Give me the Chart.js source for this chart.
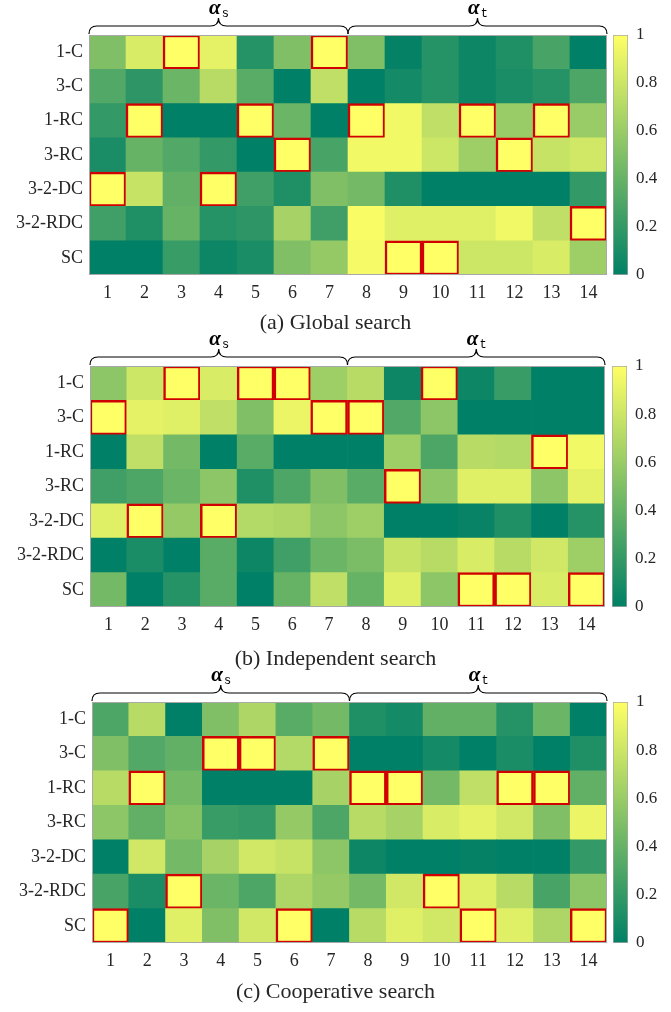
<!DOCTYPE html>
<html>
<head>
<meta charset="utf-8">
<script src="https://cdn.jsdelivr.net/npm/chart.js@4.4.1/dist/chart.umd.min.js"></script>
<style>
  body { margin: 0; background: #fff; }
  #wrap { position: relative; width: 671px; height: 1012px; overflow: hidden; }
  canvas { position: absolute; }
  .cap { position: absolute; left: 0; width: 671px; text-align: center;
         font-family: "Liberation Serif", serif; font-size: 22px; color: #262626; line-height: 24px; }
</style>
</head>
<body>
<div id="wrap">
  <canvas id="heatA" width="671" height="330" style="left:0;top:0"></canvas>
  <canvas id="barA" width="66" height="330" style="left:605px;top:0"></canvas>
  <div class="cap" style="top:310px">(a) Global search</div>

  <canvas id="heatB" width="671" height="340" style="left:0;top:330px"></canvas>
  <canvas id="barB" width="66" height="340" style="left:605px;top:330px"></canvas>
  <div class="cap" style="top:646px">(b) Independent search</div>

  <canvas id="heatC" width="671" height="342" style="left:0;top:670px"></canvas>
  <canvas id="barC" width="66" height="342" style="left:605px;top:670px"></canvas>
  <div class="cap" style="top:979px">(c) Cooperative search</div>
</div>
<script>
// ---- data ----
const rowLabels = ['1-C', '3-C', '1-RC', '3-RC', '3-2-DC', '3-2-RDC', 'SC'];
const colLabels = ['1', '2', '3', '4', '5', '6', '7', '8', '9', '10', '11', '12', '13', '14'];
const colorbarTicks = [0, 0.2, 0.4, 0.6, 0.8, 1];

// (a) 全体探索
const globalSearch = [
  [0.50, 0.85, 1.00, 0.90, 0.15, 0.50, 1.00, 0.50, 0.02, 0.15, 0.05, 0.12, 0.28, 0.00],
  [0.32, 0.18, 0.42, 0.72, 0.35, 0.00, 0.75, 0.00, 0.08, 0.15, 0.05, 0.10, 0.15, 0.30],
  [0.20, 1.00, 0.00, 0.00, 1.00, 0.42, 0.00, 1.00, 0.95, 0.75, 1.00, 0.60, 1.00, 0.60],
  [0.10, 0.40, 0.32, 0.20, 0.00, 1.00, 0.28, 0.95, 0.95, 0.80, 0.62, 1.00, 0.78, 0.82],
  [1.00, 0.78, 0.38, 1.00, 0.25, 0.12, 0.50, 0.45, 0.12, 0.00, 0.00, 0.00, 0.00, 0.20],
  [0.25, 0.12, 0.40, 0.15, 0.18, 0.65, 0.25, 0.98, 0.88, 0.88, 0.88, 0.95, 0.75, 1.00],
  [0.00, 0.00, 0.22, 0.05, 0.10, 0.50, 0.58, 0.96, 1.00, 1.00, 0.80, 0.80, 0.85, 0.62]
];
// (b) 独立探索
const independentSearch = [
  [0.55, 0.80, 1.00, 0.85, 1.00, 1.00, 0.62, 0.72, 0.05, 1.00, 0.05, 0.22, 0.00, 0.00],
  [1.00, 0.90, 0.88, 0.75, 0.50, 0.92, 1.00, 1.00, 0.32, 0.55, 0.00, 0.00, 0.00, 0.00],
  [0.00, 0.75, 0.45, 0.00, 0.35, 0.00, 0.00, 0.00, 0.62, 0.30, 0.72, 0.70, 1.00, 0.95],
  [0.25, 0.30, 0.42, 0.55, 0.12, 0.30, 0.50, 0.35, 1.00, 0.55, 0.88, 0.88, 0.55, 0.90],
  [0.88, 1.00, 0.58, 1.00, 0.70, 0.68, 0.55, 0.62, 0.00, 0.00, 0.03, 0.12, 0.00, 0.15],
  [0.00, 0.10, 0.00, 0.35, 0.05, 0.25, 0.42, 0.48, 0.78, 0.72, 0.85, 0.72, 0.82, 0.62],
  [0.45, 0.00, 0.15, 0.35, 0.00, 0.40, 0.75, 0.40, 0.88, 0.55, 1.00, 1.00, 0.85, 1.00]
];
// (c) 協調探索
const cooperativeSearch = [
  [0.30, 0.72, 0.00, 0.50, 0.68, 0.35, 0.45, 0.12, 0.08, 0.38, 0.38, 0.15, 0.42, 0.00],
  [0.50, 0.32, 0.38, 1.00, 1.00, 0.70, 1.00, 0.00, 0.00, 0.08, 0.00, 0.10, 0.00, 0.12],
  [0.72, 1.00, 0.45, 0.00, 0.00, 0.00, 0.65, 1.00, 1.00, 0.45, 0.75, 1.00, 1.00, 0.38],
  [0.55, 0.38, 0.52, 0.22, 0.20, 0.58, 0.30, 0.72, 0.65, 0.85, 0.90, 0.82, 0.50, 0.92],
  [0.00, 0.82, 0.45, 0.65, 0.82, 0.78, 0.55, 0.05, 0.00, 0.00, 0.02, 0.00, 0.00, 0.20],
  [0.28, 0.10, 1.00, 0.42, 0.30, 0.68, 0.58, 0.45, 0.82, 1.00, 0.88, 0.72, 0.28, 0.55],
  [1.00, 0.00, 0.88, 0.50, 0.82, 1.00, 0.00, 0.72, 0.88, 0.82, 1.00, 0.88, 0.68, 1.00]
];

// ---- styles ----
const FONT = '"Liberation Serif", serif';
const TEXT = '#262626';

// MATLAB summer colormap
function summer(v) {
    return 'rgb(' + Math.round(255 * v) + ',' + Math.round(127.5 + 127.5 * v) + ',102)';
}

const framePlugin = {
    id: 'frame',
    afterDatasetsDraw(chart) {
        const a = chart.chartArea, c = chart.ctx;
        c.save();
        c.strokeStyle = '#a8a8a8';
        c.lineWidth = 1;
        c.strokeRect(a.left + 0.5, a.top + 0.5, a.right - a.left - 1, a.bottom - a.top - 1);
        c.restore();
    }
};

// 上の波括弧と α ラベル
const bracePlugin = {
    id: 'brace',
    afterDraw(chart) {
        const a = chart.chartArea, c = chart.ctx, x = chart.scales.x;
        const mid = (x.getPixelForValue(6) + x.getPixelForValue(7)) / 2;
        const y0 = a.top - 1, y1 = a.top - 9, y2 = a.top - 17, r = 8;
        function brace(l, rr) {
            const m = (l + rr) / 2;
            c.beginPath();
            c.moveTo(l, y0);
            c.quadraticCurveTo(l, y1, l + r, y1);
            c.lineTo(m - r, y1);
            c.quadraticCurveTo(m, y1, m, y2);
            c.quadraticCurveTo(m, y1, m + r, y1);
            c.lineTo(rr - r, y1);
            c.quadraticCurveTo(rr, y1, rr, y0);
            c.stroke();
        }
        function label(cx, sub) {
            c.font = 'italic bold 21px ' + FONT;
            const w1 = c.measureText('α').width;
            c.font = '12px "Liberation Mono", monospace';
            const w2 = c.measureText(sub).width;
            const sx = cx - (w1 + w2) / 2;
            c.fillStyle = '#000';
            c.textBaseline = 'alphabetic';
            c.textAlign = 'left';
            c.font = 'italic bold 21px ' + FONT;
            c.fillText('α', sx, y2 - 4);
            c.font = '12px "Liberation Mono", monospace';
            c.fillText(sub, sx + w1 + 1, y2 - 1);
        }
        c.save();
        c.strokeStyle = '#000';
        c.lineWidth = 1.2;
        brace(a.left, mid);
        brace(mid, a.right);
        label((a.left + mid) / 2, 's');
        label((mid + a.right) / 2, 't');
        c.restore();
    }
};

function makeHeat(id, values, g) {
    // データセットは下の行から積み上げる
    const datasets = rowLabels.map((name, r) => ({
        label: name,
        data: values[r].map((v, k) => ({ x: colLabels[k], y: 1, v: v })),
        backgroundColor: ctx => summer(ctx.raw.v),
        borderColor: ctx => ctx.raw.v >= 1 ? '#d00000' : 'rgba(0,0,0,0)',
        borderWidth: ctx => ctx.raw.v >= 1 ? 2.5 : 0,
        borderSkipped: false,
        barPercentage: 1,
        categoryPercentage: 1
    })).reverse();

    return new Chart(document.getElementById(id), {
        type: 'bar',
        data: { labels: colLabels, datasets: datasets },
        options: {
            responsive: false,
            animation: false,
            layout: { padding: { top: g.top, right: g.right, bottom: g.bottom, left: 0 } },
            plugins: { legend: { display: false }, tooltip: { enabled: false } },
            scales: {
                x: {
                    stacked: true,
                    grid: { display: false, drawTicks: false },
                    border: { display: false },
                    ticks: { font: { family: FONT, size: 18 }, color: TEXT, padding: 7, maxRotation: 0 },
                    afterFit: s => { s.height = 30; }
                },
                y: {
                    stacked: true,
                    min: 0,
                    max: 7,
                    grid: { display: false, drawTicks: false },
                    border: { display: false },
                    afterBuildTicks: s => { s.ticks = [0.5, 1.5, 2.5, 3.5, 4.5, 5.5, 6.5].map(v => ({ value: v })); },
                    ticks: {
                        font: { family: FONT, size: 18 },
                        color: TEXT,
                        padding: 6,
                        callback: v => rowLabels[6 - Math.floor(v)]
                    },
                    afterFit: s => { s.width = g.left; }
                }
            }
        },
        plugins: [framePlugin, bracePlugin]
    });
}

function makeColorbar(id, g) {
    return new Chart(document.getElementById(id), {
        type: 'bar',
        data: {
            labels: [''],
            datasets: [{
                data: [1],
                backgroundColor: ctx => {
                    const area = ctx.chart.chartArea;
                    if (!area) return summer(0.5);
                    const grad = ctx.chart.ctx.createLinearGradient(0, area.bottom, 0, area.top);
                    grad.addColorStop(0, summer(0));
                    grad.addColorStop(1, summer(1));
                    return grad;
                },
                borderColor: '#a8a8a8',
                borderWidth: 1,
                borderSkipped: false,
                barPercentage: 1,
                categoryPercentage: 1
            }]
        },
        options: {
            responsive: false,
            animation: false,
            layout: { padding: { top: g.top, bottom: g.bottom, left: g.left, right: 0 } },
            plugins: { legend: { display: false }, tooltip: { enabled: false } },
            scales: {
                x: { display: false },
                y: {
                    position: 'right',
                    min: 0,
                    max: 1,
                    grid: { display: false, drawTicks: false },
                    border: { display: false },
                    afterBuildTicks: s => { s.ticks = colorbarTicks.map(v => ({ value: v })); },
                    ticks: {
                        font: { family: FONT, size: 17 },
                        color: TEXT,
                        padding: 8,
                        callback: v => String(+v.toFixed(1))
                    },
                    afterFit: s => { s.width = 66 - g.left - 15; }
                }
            }
        }
    });
}

makeHeat('heatA', globalSearch, { left: 89, right: 64, top: 35, bottom: 25 });
makeColorbar('barA', { left: 8, top: 35, bottom: 55 });

makeHeat('heatB', independentSearch, { left: 90, right: 66, top: 36, bottom: 33 });
makeColorbar('barB', { left: 7, top: 36, bottom: 63 });

makeHeat('heatC', cooperativeSearch, { left: 92, right: 64, top: 32, bottom: 39 });
makeColorbar('barC', { left: 8, top: 32, bottom: 69 });
</script>
</body>
</html>
